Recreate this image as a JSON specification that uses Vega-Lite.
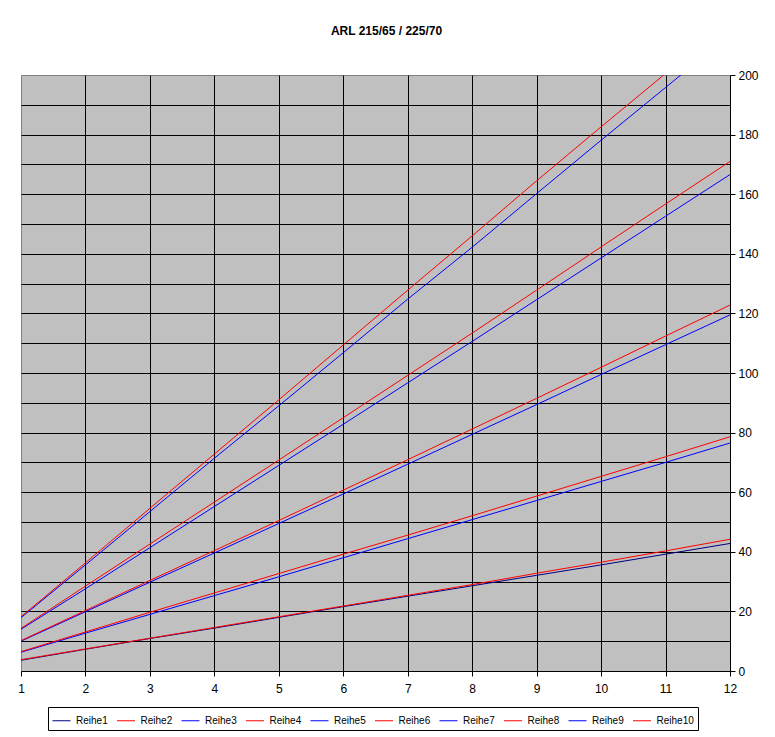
{
  "$schema": "https://vega.github.io/schema/vega-lite/v6.json",
  "width": 709,
  "height": 596,
  "autosize": "none",
  "padding": {"left": 21, "top": 75, "right": 45, "bottom": 66},
  "background": "white",
  "title": {
    "text": "ARL 215/65 / 225/70",
    "font": "Liberation Sans",
    "fontSize": 12,
    "fontWeight": "bold",
    "color": "black",
    "anchor": "middle",
    "frame": "group",
    "offset": 22,
    "baseline": "alphabetic",
    "dx": 11
  },
  "config": {
    "view": {"fill": "#C0C0C0", "stroke": "#808080", "strokeWidth": 1}
  },
  "data": {
    "values": [
      {"x": 1, "Reihe1": 3.6, "Reihe2": 3.8, "Reihe3": 6.3, "Reihe4": 6.5, "Reihe5": 10.0, "Reihe6": 10.2, "Reihe7": 14.0, "Reihe8": 14.3, "Reihe9": 17.9, "Reihe10": 18.2},
      {"x": 2, "Reihe1": 7.3, "Reihe2": 7.4, "Reihe3": 12.7, "Reihe4": 13.1, "Reihe5": 19.9, "Reihe6": 20.3, "Reihe7": 27.6, "Reihe8": 28.5, "Reihe9": 35.6, "Reihe10": 36.3},
      {"x": 3, "Reihe1": 10.9, "Reihe2": 11.0, "Reihe3": 19.0, "Reihe4": 19.7, "Reihe5": 29.8, "Reihe6": 30.4, "Reihe7": 41.4, "Reihe8": 42.6, "Reihe9": 53.5, "Reihe10": 54.6},
      {"x": 4, "Reihe1": 14.4, "Reihe2": 14.6, "Reihe3": 25.3, "Reihe4": 26.2, "Reihe5": 39.6, "Reihe6": 40.4, "Reihe7": 55.2, "Reihe8": 56.7, "Reihe9": 71.4, "Reihe10": 72.8},
      {"x": 5, "Reihe1": 18.0, "Reihe2": 18.2, "Reihe3": 31.6, "Reihe4": 32.7, "Reihe5": 49.5, "Reihe6": 50.5, "Reihe7": 69.0, "Reihe8": 70.8, "Reihe9": 89.0, "Reihe10": 91.0},
      {"x": 6, "Reihe1": 21.6, "Reihe2": 21.8, "Reihe3": 38.0, "Reihe4": 39.2, "Reihe5": 59.4, "Reihe6": 60.7, "Reihe7": 82.8, "Reihe8": 85.0, "Reihe9": 106.8, "Reihe10": 109.4},
      {"x": 7, "Reihe1": 25.1, "Reihe2": 25.4, "Reihe3": 44.4, "Reihe4": 45.6, "Reihe5": 69.4, "Reihe6": 70.9, "Reihe7": 96.7, "Reihe8": 99.2, "Reihe9": 124.8, "Reihe10": 127.8},
      {"x": 8, "Reihe1": 28.6, "Reihe2": 29.0, "Reihe3": 50.8, "Reihe4": 52.1, "Reihe5": 79.4, "Reihe6": 81.2, "Reihe7": 110.6, "Reihe8": 113.4, "Reihe9": 142.2, "Reihe10": 146.0},
      {"x": 9, "Reihe1": 32.1, "Reihe2": 32.8, "Reihe3": 57.2, "Reihe4": 58.7, "Reihe5": 89.4, "Reihe6": 91.5, "Reihe7": 124.6, "Reihe8": 127.8, "Reihe9": 160.2, "Reihe10": 164.5},
      {"x": 10, "Reihe1": 35.6, "Reihe2": 36.5, "Reihe3": 63.6, "Reihe4": 65.3, "Reihe5": 99.5, "Reihe6": 101.9, "Reihe7": 138.6, "Reihe8": 142.3, "Reihe9": 178.1, "Reihe10": 182.6},
      {"x": 11, "Reihe1": 39.2, "Reihe2": 40.3, "Reihe3": 70.0, "Reihe4": 71.9, "Reihe5": 109.5, "Reihe6": 112.4, "Reihe7": 152.6, "Reihe8": 156.7, "Reihe9": 195.8, "Reihe10": 200.5},
      {"x": 12, "Reihe1": 42.8, "Reihe2": 44.2, "Reihe3": 76.5, "Reihe4": 78.6, "Reihe5": 119.5, "Reihe6": 122.8, "Reihe7": 166.6, "Reihe8": 171.0, "Reihe9": 213.5, "Reihe10": 218.5}
    ]
  },
  "transform": [
    {"fold": ["Reihe1", "Reihe2", "Reihe3", "Reihe4", "Reihe5", "Reihe6", "Reihe7", "Reihe8", "Reihe9", "Reihe10"], "as": ["serie", "wert"]}
  ],
  "mark": {"type": "line", "strokeWidth": 1, "clip": true},
  "encoding": {
    "x": {
      "field": "x",
      "type": "quantitative",
      "scale": {"domain": [1, 12], "nice": false, "zero": false},
      "axis": {
        "orient": "bottom",
        "title": null,
        "values": [1, 2, 3, 4, 5, 6, 7, 8, 9, 10, 11, 12],
        "grid": true,
        "gridColor": "black",
        "gridWidth": 1,
        "gridOpacity": {"condition": {"test": "datum.value > 1 && datum.value < 12", "value": 1}, "value": 0},
        "domainColor": "black",
        "tickColor": "black",
        "tickSize": 5,
        "labelFont": "Liberation Sans",
        "labelFontSize": 12,
        "labelColor": "black",
        "labelPadding": 7,
        "labelFlush": false,
        "labelOverlap": false
      }
    },
    "y": {
      "field": "wert",
      "type": "quantitative",
      "scale": {"domain": [0, 200], "nice": false},
      "axis": {
        "orient": "right",
        "title": null,
        "values": [0, 10, 20, 30, 40, 50, 60, 70, 80, 90, 100, 110, 120, 130, 140, 150, 160, 170, 180, 190, 200],
        "grid": true,
        "gridColor": "black",
        "gridWidth": 1,
        "gridOpacity": {"condition": {"test": "datum.value > 0 && datum.value < 200", "value": 1}, "value": 0},
        "domainColor": "black",
        "tickColor": "black",
        "tickSize": 5,
        "tickOpacity": {"condition": {"test": "datum.value % 20 == 0", "value": 1}, "value": 0},
        "labelExpr": "datum.value % 20 == 0 ? datum.label : ''",
        "labelFont": "Liberation Sans",
        "labelFontSize": 12,
        "labelColor": "black",
        "labelPadding": 3,
        "labelFlush": false,
        "labelOverlap": false
      }
    },
    "color": {
      "field": "serie",
      "type": "nominal",
      "scale": {
        "domain": ["Reihe1", "Reihe2", "Reihe3", "Reihe4", "Reihe5", "Reihe6", "Reihe7", "Reihe8", "Reihe9", "Reihe10"],
        "range": ["#000080", "#FF0000", "#0000FF", "#FF0000", "#0000FF", "#FF0000", "#0000FF", "#FF0000", "#0000FF", "#FF0000"]
      },
      "legend": {
        "orient": "none",
        "legendX": 27,
        "legendY": 632,
        "direction": "horizontal",
        "columns": 10,
        "title": null,
        "strokeColor": "black",
        "fillColor": "white",
        "padding": 4,
        "symbolType": "stroke",
        "symbolSize": 324,
        "symbolStrokeWidth": 1,
        "labelFont": "Liberation Sans",
        "labelFontSize": 10,
        "labelColor": "black",
        "labelOffset": 5,
        "columnPadding": 6.5,
        "gridAlign": "each",
        "labelExpr": "datum.label == 'Reihe10' ? 'Reihe10\u00a0\u00a0\u00a0\u00a0\u00a0\u00a0\u00a0\u00a0\u00a0' : datum.label"
      }
    }
  }
}
